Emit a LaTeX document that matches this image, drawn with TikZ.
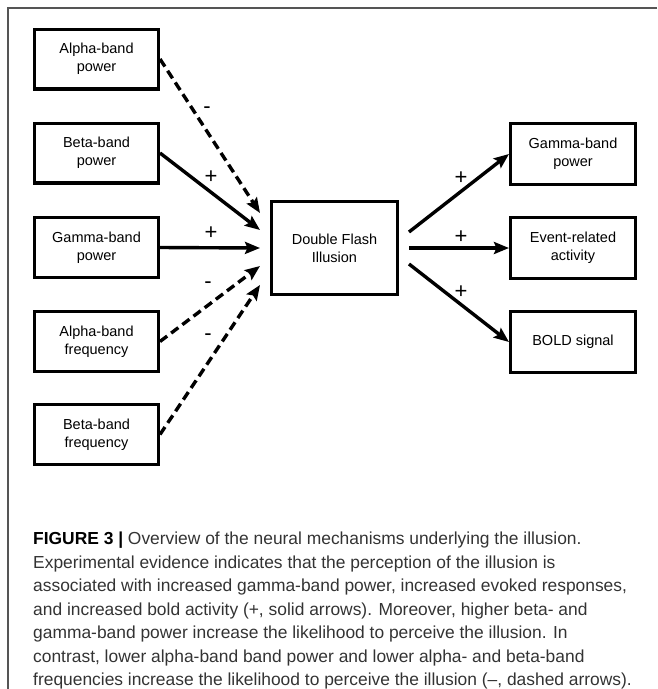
\documentclass[tikz,border=0pt]{standalone}
\usepackage{fontspec}
\setmainfont{Liberation Sans}
\usetikzlibrary{arrows.meta,calc}
\definecolor{framegray}{HTML}{555555}
\definecolor{captext}{HTML}{333333}
\begin{document}
\begin{tikzpicture}[x=1pt,y=-1pt,
  box/.style={draw=black,line width=3.4pt,minimum width=123.6pt,minimum height=59.6pt,
    align=center,font=\fontsize{14.5}{18}\selectfont,inner sep=2pt},
  cbox/.style={box,minimum width=125.6pt,minimum height=92.6pt},
  rbox/.style={box,minimum width=124.6pt,minimum height=60.6pt},
  conn/.style={line width=3.4pt,-{Stealth[length=15pt,width=12pt,inset=2.5pt]}},
  neg/.style={conn,dash pattern=on 9pt off 5pt},
  sign/.style={font=\fontsize{22}{22}\selectfont,inner sep=0pt}]
\useasboundingbox (0,0) rectangle (657,689);
\draw[framegray,line width=1.8pt] (657,8) -- (8,8) -- (8,689);
% left boxes
\node[box] (aP) at (96.5,59) {Alpha-band\\power};
\node[box] (bP) at (96.5,153) {Beta-band\\power};
\node[box] (gP) at (96.5,247.5) {Gamma-band\\power};
\node[box] (aF) at (96.5,341.5) {Alpha-band\\frequency};
\node[box] (bF) at (96.5,434.5) {Beta-band\\frequency};
% centre
\node[cbox] (dfi) at (334.5,248) {Double Flash\\Illusion};
% right boxes
\node[rbox] (gO) at (573,154) {Gamma-band\\power};
\node[rbox] (eO) at (573,248) {Event-related\\activity};
\node[rbox] (bO) at (573,342) {BOLD signal};
% arrow end points
\coordinate (t1) at ($(dfi.west)+(-10,-35)$);
\coordinate (t2) at ($(dfi.west)+(-10,-18)$);
\coordinate (t3) at ($(dfi.west)+(-10,0)$);
\coordinate (t4) at ($(dfi.west)+(-10,18)$);
\coordinate (t5) at ($(dfi.west)+(-10,37)$);
\coordinate (s1) at ($(dfi.east)+(10,-16)$);
\coordinate (s2) at ($(dfi.east)+(10,0)$);
\coordinate (s3) at ($(dfi.east)+(10,16)$);
% inputs
\draw[neg] (aP.east) -- (t1);
\draw[conn] (bP.east) -- (t2);
\draw[conn] (gP.east) -- (t3);
\draw[neg] (aF.east) -- (t4);
\draw[neg] (bF.east) -- (t5);
% outputs
\draw[conn] (s1) -- (gO.west);
\draw[conn] (s2) -- (eO.west);
\draw[conn] (s3) -- (bO.west);
% signs
\node[sign] (l1) at (207,110) {-};
\node[sign] (l2) at (211,177) {+};
\node[sign] (l3) at (211,233) {+};
\node[sign] (l4) at (208,285) {-};
\node[sign] (l5) at (208,337) {-};
\node[sign] (r1) at (461,178) {+};
\node[sign] (r2) at (461,237) {+};
\node[sign] (r3) at (461,292) {+};
% caption
\node[anchor=north west,inner sep=0pt,align=left,text=captext,
  font=\fontsize{17.4}{23.5}\selectfont] (cap) at (33,532)
{\textcolor{black}{\textbf{FIGURE 3 |}} Overview of the neural mechanisms underlying the illusion.\\
Experimental evidence indicates that the perception of the illusion is\\
associated with increased gamma-band power, increased evoked responses,\\
and increased bold activity (+, solid arrows). Moreover, higher beta- and\\
gamma-band power increase the likelihood to perceive the illusion. In\\
contrast, lower alpha-band band power and lower alpha- and beta-band\\
frequencies increase the likelihood to perceive the illusion (--, dashed arrows).};
\end{tikzpicture}
\end{document}
